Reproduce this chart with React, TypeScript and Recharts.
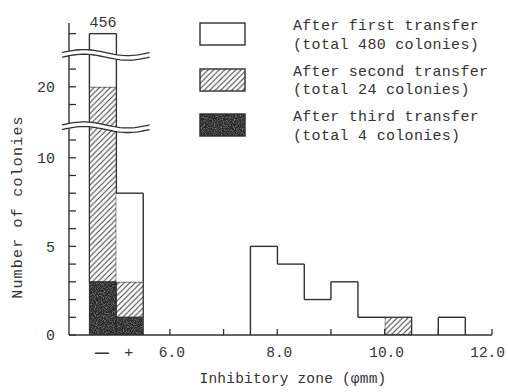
import React from "react";
import { BarChart, Bar, XAxis, YAxis, ReferenceArea, Legend, LabelList } from "recharts";

// ---- data ----
// bin centres on the inhibitory-zone axis; the first two bins are the "−" and "+" growth classes
const binCenters = [4.75, 5.25, 5.75, 6.25, 6.75, 7.25, 7.75, 8.25, 8.75, 9.25, 9.75, 10.25, 10.75, 11.25, 11.75];
const firstTransfer = [456, 8, 0, 0, 0, 0, 5, 4, 2, 3, 1, 1, 0, 1, 0];
const secondTransfer = [20, 3, 0, 0, 0, 0, 0, 0, 0, 0, 0, 1, 0, 0, 0];
const thirdTransfer = [3, 1, 0, 0, 0, 0, 0, 0, 0, 0, 0, 0, 0, 0, 0];

const growthTicks = [4.75, 5.25];
const growthTickLabels = ["—", "+"];
const zoneTicks = [6, 7, 8, 9, 10, 11, 12];
const zoneTickLabels = ["6.0", "", "8.0", "", "10.0", "", "12.0"];

const yLabelledTicks = [0, 5, 10, 20];
const yMinorTicks = [0, 1, 2, 3, 4, 5, 6, 7, 8, 9, 10, 11, 19, 20, 21, 23];

const legendTitles = ["After first transfer", "After second transfer", "After third transfer"];
const legendTotals = ["(total 480 colonies)", "(total 24 colonies)", "(total 4 colonies)"];

// broken y axis: 0..12 shown as is, 18..23 shifted down by 6, anything above is capped
const LOWER_TOP = 12;
const UPPER_SHIFT = 6;
const UPPER_TOP = 23;
const toDisplay = (v: number) => (v <= LOWER_TOP ? v : v <= UPPER_TOP ? v - UPPER_SHIFT : UPPER_TOP - UPPER_SHIFT);
const breakCentres = [11.72, 15.8];

const FONT = "'Liberation Mono', 'DejaVu Sans Mono', monospace";
const INK = "#303030";
const TEXT = "#333";
const DARK = "#2a2a2a";

const rows = binCenters.map((c, i) => {
  const top = toDisplay(firstTransfer[i]);
  const mid = toDisplay(secondTransfer[i]);
  const low = toDisplay(thirdTransfer[i]);
  return {
    zone: c,
    third: low,
    second: mid - low,
    first: top - mid,
    firstTop: top,
    topLabel: firstTransfer[i] > UPPER_TOP ? firstTransfer[i] : null,
  };
});

const findIndex = (props: any) => {
  if (typeof props.index === "number") return props.index;
  return rows.findIndex((r) => r.zone === props.payload?.zone);
};

const WhiteShape = (props: any) => {
  const { x, y, width, height } = props;
  if (!height || height <= 0) return <g />;
  const i = findIndex(props);
  const row = rows[i];
  const ppu = height / row.first;
  const bottom = y + height;
  const base = bottom + (row.firstTop - row.first) * ppu;
  const leftTop = i > 0 ? rows[i - 1].firstTop : 0;
  const rightTop = i < rows.length - 1 ? rows[i + 1].firstTop : 0;
  const clamp = (p: number) => Math.min(Math.max(p, y), bottom);
  const lPx = clamp(base - leftTop * ppu);
  const rPx = clamp(base - rightTop * ppu);
  return (
    <g>
      <rect x={x} y={y} width={width} height={height} fill="#fff" />
      <line x1={x} x2={x + width} y1={y} y2={y} stroke={INK} strokeWidth={1.4} />
      {lPx > y + 0.5 && <line x1={x} x2={x} y1={y} y2={lPx} stroke={INK} strokeWidth={1.4} />}
      {rPx > y + 0.5 && <line x1={x + width} x2={x + width} y1={y} y2={rPx} stroke={INK} strokeWidth={1.4} />}
    </g>
  );
};

const HatchShape = (props: any) => {
  const { x, y, width, height } = props;
  if (!height || height <= 0) return <g />;
  return <rect x={x} y={y} width={width} height={height} fill="url(#hatch)" stroke={INK} strokeWidth={1.3} />;
};

const DarkShape = (props: any) => {
  const { x, y, width, height } = props;
  if (!height || height <= 0) return <g />;
  return <rect x={x} y={y} width={width} height={height} fill="url(#speckle)" stroke={DARK} strokeWidth={1} />;
};

const BreakShape = (props: any) => {
  const { x, y, width, height } = props;
  const n = 30;
  const amp = 3;
  const wave = (t: number) => -amp * Math.sin(2 * Math.PI * t);
  const topPts: string[] = [];
  const botPts: string[] = [];
  for (let k = 0; k <= n; k++) {
    const t = k / n;
    topPts.push(`${(x + t * width).toFixed(2)},${(y + wave(t)).toFixed(2)}`);
    botPts.push(`${(x + t * width).toFixed(2)},${(y + height + wave(t)).toFixed(2)}`);
  }
  const fillPath = `M${topPts.join(" L")} L${botPts.slice().reverse().join(" L")} Z`;
  return (
    <g>
      <path d={fillPath} fill="#fff" stroke="none" />
      <path d={`M${topPts.join(" L")}`} fill="none" stroke={INK} strokeWidth={1.3} />
      <path d={`M${botPts.join(" L")}`} fill="none" stroke={INK} strokeWidth={1.3} />
    </g>
  );
};

const yTickDisplay = yMinorTicks.map(toDisplay);

const YTick = (props: any) => {
  const { x, y, payload } = props;
  const idx = yTickDisplay.indexOf(payload.value);
  const real = idx >= 0 ? yMinorTicks[idx] : null;
  const label = real !== null && yLabelledTicks.includes(real) ? String(real) : "";
  return (
    <g>
      <line x1={x} x2={x + 7} y1={y} y2={y} stroke={INK} strokeWidth={1.3} />
      {label && (
        <text x={x - 14} y={y} dy="0.36em" textAnchor="end" fontFamily={FONT} fontSize={15} fill={TEXT}>
          {label}
        </text>
      )}
    </g>
  );
};

const XTick = (props: any) => {
  const { x, y, payload } = props;
  const gi = growthTicks.indexOf(payload.value);
  const zi = zoneTicks.indexOf(payload.value);
  const isLast = zi === zoneTicks.length - 1;
  if (gi >= 0) {
    const dash = gi === 0;
    return (
      <text
        x={x - 1}
        y={y + 17}
        dy={dash ? "0.3em" : "0.36em"}
        textAnchor="middle"
        fontFamily={FONT}
        fontSize={dash ? 23 : 15}
        fill={TEXT}
      >
        {growthTickLabels[gi]}
      </text>
    );
  }
  const label = zi >= 0 ? zoneTickLabels[zi] : "";
  return (
    <g>
      {zi >= 0 && <line x1={x} x2={x} y1={y} y2={y - 6} stroke={INK} strokeWidth={1.3} />}
      {label && (
        <text
          x={isLast ? x + 13 : x + 2}
          y={y + 17}
          dy="0.36em"
          textAnchor={isLast ? "end" : "middle"}
          fontFamily={FONT}
          fontSize={14.5}
          fill={TEXT}
        >
          {label}
        </text>
      )}
    </g>
  );
};

const TopLabel = (props: any) => {
  const vb = props.viewBox || props;
  const value = props.value;
  if (value === null || value === undefined || value === "") return null;
  const x = vb.x ?? props.x;
  const y = vb.y ?? props.y;
  const w = vb.width ?? props.width;
  return (
    <text x={x + w / 2} y={y - 7} textAnchor="middle" fontFamily={FONT} fontSize={15} fill={TEXT}>
      {value}
    </text>
  );
};

const LegendContent = () => {
  const fills = ["#fff", "url(#hatch)", "url(#speckle)"];
  return (
    <div style={{ position: "relative", width: 300, height: 130 }}>
      {legendTitles.map((t, i) => (
        <div key={t} style={{ position: "absolute", left: 0, top: i * 45.5, width: 300, height: 40 }}>
          <svg width={48} height={25} style={{ position: "absolute", left: 0, top: 4 }}>
            <rect x={1} y={1} width={45} height={22} fill={fills[i]} stroke={i === 2 ? DARK : INK} strokeWidth={1.4} />
          </svg>
          <div
            style={{
              position: "absolute",
              left: 94,
              top: 0,
              fontFamily: FONT,
              fontSize: 15,
              lineHeight: "18.5px",
              letterSpacing: 0.3,
              color: TEXT,
              whiteSpace: "pre",
            }}
          >
            {t}
            {"\n"}
            {legendTotals[i]}
          </div>
        </div>
      ))}
    </div>
  );
};

export default function App() {
  return (
    <div style={{ position: "absolute", left: 0, top: 0, width: 508, height: 392, background: "#fff" }}>
      <svg width={0} height={0} style={{ position: "absolute" }}>
        <defs>
          <pattern id="hatch" patternUnits="userSpaceOnUse" width={5.5} height={5.5}>
            <rect width={5.5} height={5.5} fill="#fff" />
            <path d="M0,5.5 L5.5,0 M-1.4,1.4 L1.4,-1.4 M4.1,6.9 L6.9,4.1" stroke="#3a3a3a" strokeWidth={1} />
          </pattern>
          <filter id="grain" x="0" y="0" width="100%" height="100%">
            <feTurbulence type="fractalNoise" baseFrequency="0.9" numOctaves={2} seed={3} result="n" />
            <feColorMatrix
              in="n"
              type="matrix"
              values="0 0 0 0 0.42  0 0 0 0 0.42  0 0 0 0 0.42  0 0 0 1.6 -0.65"
            />
          </filter>
          <pattern id="speckle" patternUnits="userSpaceOnUse" width={60} height={60}>
            <rect width={60} height={60} fill="#262626" />
            <rect width={60} height={60} filter="url(#grain)" />
          </pattern>
        </defs>
      </svg>
      <BarChart
        width={508}
        height={392}
        data={rows}
        margin={{ top: 23, right: 16, bottom: 0, left: 0 }}
        barCategoryGap={0}
        barGap={0}
      >
        <XAxis
          dataKey="zone"
          type="number"
          domain={[4.12, 12]}
          allowDataOverflow
          ticks={[...growthTicks, ...zoneTicks]}
          interval={0}
          tick={<XTick />}
          tickLine={false}
          tickSize={0}
          tickMargin={0}
          height={57}
          axisLine={{ stroke: INK, strokeWidth: 1.4 }}
          label={{
            content: (p: any) => {
              const vb = p.viewBox || {};
              return (
                <text x={(vb.x ?? 69) + 224} y={(vb.y ?? 335) + 43} dy="0.36em" textAnchor="middle" fontFamily={FONT} fontSize={14.5} letterSpacing={0.2} fill={TEXT}>
                  Inhibitory zone (φmm)
                </text>
              );
            },
          }}
        />
        <YAxis
          type="number"
          domain={[0, 17.6]}
          allowDataOverflow
          ticks={yTickDisplay}
          interval={0}
          tick={<YTick />}
          tickLine={false}
          tickSize={0}
          tickMargin={0}
          width={69}
          axisLine={{ stroke: INK, strokeWidth: 1.4 }}
          label={{
            content: (p: any) => {
              const vb = p.viewBox || {};
              const cx = 17;
              const cy = (vb.y ?? 23) + 184;
              return (
                <text x={cx} y={cy} dy="0.36em" textAnchor="middle" transform={`rotate(-90 ${cx} ${cy})`} fontFamily={FONT} fontSize={15} letterSpacing={1.2} fill={TEXT}>
                  Number of colonies
                </text>
              );
            },
          }}
        />
        <Bar dataKey="third" stackId="s" shape={<DarkShape />} isAnimationActive={false} />
        <Bar dataKey="second" stackId="s" shape={<HatchShape />} isAnimationActive={false} />
        <Bar dataKey="first" stackId="s" shape={<WhiteShape />} isAnimationActive={false}>
          <LabelList dataKey="topLabel" content={<TopLabel />} />
        </Bar>
        {breakCentres.map((c) => (
          <ReferenceArea
            key={c}
            x1={3.99}
            x2={5.62}
            y1={c - 0.13}
            y2={c + 0.13}
            ifOverflow="visible"
            shape={<BreakShape />}
            zIndex={2500}
          />
        ))}
        <Legend
          layout="vertical"
          align="center"
          verticalAlign="middle"
          wrapperStyle={{ left: 199, top: 18, width: 300 }}
          content={<LegendContent />}
        />
      </BarChart>
    </div>
  );
}
